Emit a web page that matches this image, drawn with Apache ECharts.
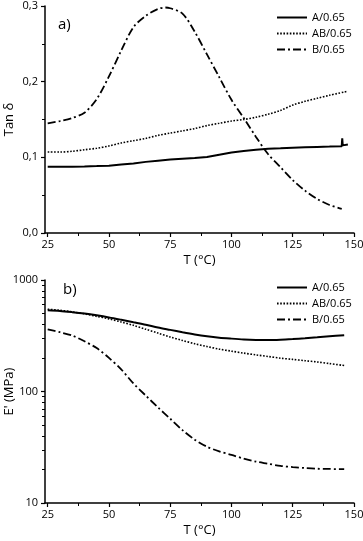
<!DOCTYPE html>
<html>
<head>
<meta charset="utf-8">
<script src="https://cdn.jsdelivr.net/npm/echarts@6/dist/echarts.min.js"></script>
<style>
  html, body { margin: 0; padding: 0; background: #fff; }
  #chart { width: 363px; height: 541px; }
</style>
</head>
<body>
<div id="chart"></div>
<script>
// series names
const names = ['A/0.65', 'AB/0.65', 'B/0.65'];

// a) tan delta vs temperature
const tempTanA = [25, 30, 35, 40, 45, 50, 55, 60, 65, 70, 75, 80, 85, 90, 95, 100, 105, 110, 115, 120, 125, 130, 135, 140, 145, 145.2, 145.4, 147.5];
const tanA = [0.0875, 0.0875, 0.0877, 0.088, 0.0884, 0.089, 0.0905, 0.092, 0.094, 0.0955, 0.097, 0.098, 0.099, 0.1005, 0.1035, 0.1065, 0.1085, 0.11, 0.1115, 0.112, 0.1128, 0.1133, 0.1138, 0.1142, 0.1148, 0.125, 0.1158, 0.117];
const tempTanAB = [25, 30, 35, 40, 45, 50, 55, 60, 65, 70, 75, 80, 85, 90, 95, 100, 105, 110, 115, 120, 125, 130, 135, 140, 147];
const tanAB = [0.107, 0.107, 0.108, 0.11, 0.112, 0.115, 0.119, 0.122, 0.125, 0.129, 0.132, 0.135, 0.138, 0.142, 0.145, 0.148, 0.15, 0.153, 0.157, 0.162, 0.169, 0.174, 0.178, 0.182, 0.187];
const tempTanB = [25, 30, 35, 40, 45, 50, 55, 60, 65, 70, 73, 75, 80, 85, 90, 95, 100, 105, 110, 115, 120, 125, 130, 135, 140, 145];
const tanB = [0.145, 0.148, 0.152, 0.159, 0.177, 0.207, 0.241, 0.272, 0.287, 0.296, 0.298, 0.297, 0.29, 0.266, 0.236, 0.206, 0.176, 0.152, 0.127, 0.104, 0.087, 0.07, 0.056, 0.045, 0.037, 0.032];

// b) storage modulus E' (MPa) vs temperature
const tempE = [25, 30, 35, 40, 45, 50, 55, 60, 65, 70, 75, 80, 85, 90, 95, 100, 105, 110, 115, 120, 125, 130, 135, 140, 146];
const modA = [535, 528, 515, 500, 482, 462, 440, 418, 397, 375, 357, 340, 325, 313, 304, 298, 293, 290, 289, 291, 295, 300, 306, 313, 320];
const modAB = [546, 535, 518, 497, 472, 448, 420, 392, 362, 334, 308, 287, 268, 253, 240, 230, 221, 213, 206, 199, 194, 189, 184, 178, 171];
const modB = [361, 340, 318, 282, 245, 200, 158, 118, 92, 72, 57, 45, 37, 32, 29, 27, 25, 23.5, 22.5, 21.5, 21, 20.6, 20.3, 20.2, 20.1];

// ticks
const tempTicks = [25, 50, 75, 100, 125, 150];
const tempMinorTicks = [37.5, 62.5, 87.5, 112.5, 137.5];
const modMinorTicks = [20, 30, 40, 50, 60, 70, 80, 90, 200, 300, 400, 500, 600, 700, 800, 900];

const font = 'Open Sans';
const black = '#000';

const pair = (xs, ys) => xs.map((x, i) => [x, ys[i]]);

const styleOf = {
  'A/0.65': { color: black, width: 2, type: 'solid' },
  'AB/0.65': { color: black, width: 1.6, type: [1.6, 1.6] },
  'B/0.65': { color: black, width: 1.8, type: [8, 3, 2, 3] }
};

function tempAxis(gridIndex) {
  return {
    gridIndex, type: 'value', min: 23.9, max: 150, position: 'bottom',
    axisLine: { onZero: false, lineStyle: { color: black, width: 1.5 } },
    axisTick: { customValues: tempTicks, length: 4, lineStyle: { color: black, width: 1.2 } },
    axisLabel: { customValues: tempTicks, color: black, fontSize: 11, fontFamily: font, margin: 6 },
    splitLine: { show: false },
    name: 'T (°C)', nameLocation: 'middle', nameGap: 21, nameMoveOverlap: false,
    nameTextStyle: { color: black, fontSize: 13, fontFamily: font }
  };
}

function tempMinorAxis(gridIndex) {
  return {
    gridIndex, type: 'value', min: 23.9, max: 150, position: 'bottom',
    axisLine: { show: false },
    axisTick: { customValues: tempMinorTicks, length: 3, lineStyle: { color: black, width: 1 } },
    axisLabel: { show: false },
    splitLine: { show: false }
  };
}

function line(name, data, xi, yi, smooth) {
  const s = styleOf[name];
  return {
    name, type: 'line', xAxisIndex: xi, yAxisIndex: yi, data,
    symbol: 'none', smooth: smooth, silent: true,
    lineStyle: { color: s.color, width: s.width, type: s.type },
    itemStyle: { color: s.color }
  };
}

const legendBase = {
  orient: 'vertical', itemWidth: 30, itemHeight: 10, itemGap: 5,
  data: names, selectedMode: false,
  itemStyle: { opacity: 0 },
  textStyle: { color: black, fontSize: 11, fontFamily: font }
};

const chart = echarts.init(document.getElementById('chart'));
chart.setOption({
  backgroundColor: '#fff',
  animation: false,
  grid: [
    { left: 45, top: 6, width: 309, height: 227, containLabel: false, outerBoundsMode: 'none' },
    { left: 45, top: 280, width: 309, height: 223, containLabel: false, outerBoundsMode: 'none' }
  ],
  legend: [
    Object.assign({ left: 271, top: 7 }, legendBase),
    Object.assign({ left: 271, top: 277 }, legendBase)
  ],
  xAxis: [tempAxis(0), tempMinorAxis(0), tempAxis(1), tempMinorAxis(1)],
  yAxis: [
    {
      gridIndex: 0, type: 'value', min: 0, max: 0.3, interval: 0.1,
      axisLine: { show: true, lineStyle: { color: black, width: 1.5 } },
      axisTick: { show: true, length: 4, lineStyle: { color: black, width: 1.2 } },
      minorTick: { show: true, splitNumber: 2, length: 3, lineStyle: { color: black, width: 1 } },
      axisLabel: { color: black, fontSize: 11, fontFamily: font, margin: 7,
        formatter: v => v.toFixed(1).replace('.', ',') },
      splitLine: { show: false },
      name: 'Tan δ', nameLocation: 'middle', nameGap: 29, nameMoveOverlap: false,
      nameTextStyle: { color: black, fontSize: 13, fontFamily: font }
    },
    {
      gridIndex: 1, type: 'log', logBase: 10, min: 10, max: 1000,
      axisLine: { show: true, lineStyle: { color: black, width: 1.5 } },
      axisTick: { show: true, length: 4, lineStyle: { color: black, width: 1.2 } },
      axisLabel: { color: black, fontSize: 11, fontFamily: font, margin: 7,
        formatter: v => String(Math.round(v)) },
      splitLine: { show: false },
      name: "E' (MPa)", nameLocation: 'middle', nameGap: 29, nameMoveOverlap: false,
      nameTextStyle: { color: black, fontSize: 13, fontFamily: font }
    },
    {
      // log-spaced minor ticks drawn on a linear log10 scale
      gridIndex: 1, type: 'value', min: 1, max: 3, position: 'left',
      axisLine: { show: false },
      axisTick: { show: true, customValues: modMinorTicks.map(v => Math.log10(v)), length: 3,
        lineStyle: { color: black, width: 1 } },
      axisLabel: { show: false },
      splitLine: { show: false }
    }
  ],
  graphic: [
    { type: 'text', left: 58, top: 17, style: { text: 'a)', fontSize: 15, fontFamily: font, fill: black } },
    { type: 'text', left: 63, top: 282, style: { text: 'b)', fontSize: 15, fontFamily: font, fill: black } }
  ],
  series: [
    line('A/0.65', pair(tempTanA, tanA), 0, 0, false),
    line('AB/0.65', pair(tempTanAB, tanAB), 0, 0, 0.3),
    line('B/0.65', pair(tempTanB, tanB), 0, 0, 0.3),
    line('A/0.65', pair(tempE, modA), 2, 1, 0.3),
    line('AB/0.65', pair(tempE, modAB), 2, 1, 0.3),
    line('B/0.65', pair(tempE, modB), 2, 1, 0.3)
  ]
});
</script>
</body>
</html>
